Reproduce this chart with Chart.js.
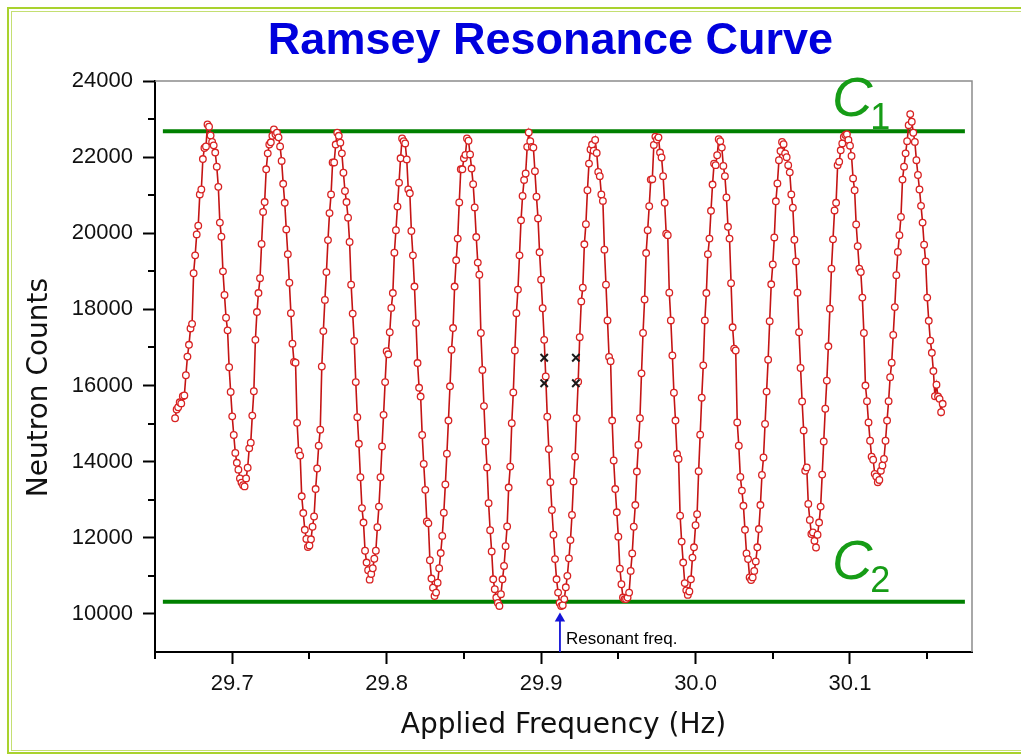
<!DOCTYPE html>
<html>
<head>
<meta charset="utf-8">
<script src="https://cdn.jsdelivr.net/npm/chart.js@4.4.1/dist/chart.umd.min.js"></script>
<style>
html,body{margin:0;padding:0;background:#fff;overflow:hidden;}
#wrap{position:relative;width:1021px;height:755px;overflow:hidden;}
canvas{position:absolute;left:0;top:0;}
.frame{position:absolute;box-sizing:border-box;pointer-events:none;}
#outer{left:7px;top:7px;width:1100px;height:747px;border:2px solid #a9d22e;}
#inner{left:11px;top:11px;width:1100px;height:740px;border:1px solid #c4df72;}
</style>
</head>
<body>
<div id="wrap">
<canvas id="c" width="1021" height="755"></canvas>
<div class="frame" id="outer"></div>
<div class="frame" id="inner"></div>
</div>
<script>
// Applied frequency (Hz) of each measurement
const frequencies = [
29.663,29.664,29.665,29.666,29.667,29.668,29.669,29.670,29.671,29.672,
29.673,29.674,29.675,29.676,29.677,29.678,29.679,29.680,29.681,29.682,
29.683,29.684,29.685,29.686,29.687,29.688,29.689,29.690,29.691,29.692,
29.693,29.694,29.695,29.696,29.697,29.698,29.699,29.700,29.701,29.702,
29.703,29.704,29.705,29.706,29.707,29.708,29.709,29.710,29.711,29.712,
29.713,29.714,29.715,29.716,29.717,29.718,29.719,29.720,29.721,29.722,
29.723,29.724,29.725,29.726,29.727,29.728,29.729,29.730,29.731,29.732,
29.733,29.734,29.735,29.736,29.737,29.738,29.739,29.740,29.741,29.742,
29.743,29.744,29.745,29.746,29.747,29.748,29.749,29.750,29.751,29.752,
29.753,29.754,29.755,29.756,29.757,29.758,29.759,29.760,29.761,29.762,
29.763,29.764,29.765,29.766,29.767,29.768,29.769,29.770,29.771,29.772,
29.773,29.774,29.775,29.776,29.777,29.778,29.779,29.780,29.781,29.782,
29.783,29.784,29.785,29.786,29.787,29.788,29.789,29.790,29.791,29.792,
29.793,29.794,29.795,29.796,29.797,29.798,29.799,29.800,29.801,29.802,
29.803,29.804,29.805,29.806,29.807,29.808,29.809,29.810,29.811,29.812,
29.813,29.814,29.815,29.816,29.817,29.818,29.819,29.820,29.821,29.822,
29.823,29.824,29.825,29.826,29.827,29.828,29.829,29.830,29.831,29.832,
29.833,29.834,29.835,29.836,29.837,29.838,29.839,29.840,29.841,29.842,
29.843,29.844,29.845,29.846,29.847,29.848,29.849,29.850,29.851,29.852,
29.853,29.854,29.855,29.856,29.857,29.858,29.859,29.860,29.861,29.862,
29.863,29.864,29.865,29.866,29.867,29.868,29.869,29.870,29.871,29.872,
29.873,29.874,29.875,29.876,29.877,29.878,29.879,29.880,29.881,29.882,
29.883,29.884,29.885,29.886,29.887,29.888,29.889,29.890,29.891,29.892,
29.893,29.894,29.895,29.896,29.897,29.898,29.899,29.900,29.901,29.902,
29.903,29.904,29.905,29.906,29.907,29.908,29.909,29.910,29.911,29.912,
29.913,29.914,29.915,29.916,29.917,29.918,29.919,29.920,29.921,29.922,
29.923,29.924,29.925,29.926,29.927,29.928,29.929,29.930,29.931,29.932,
29.933,29.934,29.935,29.936,29.937,29.938,29.939,29.940,29.941,29.942,
29.943,29.944,29.945,29.946,29.947,29.948,29.949,29.950,29.951,29.952,
29.953,29.954,29.955,29.956,29.957,29.958,29.959,29.960,29.961,29.962,
29.963,29.964,29.965,29.966,29.967,29.968,29.969,29.970,29.971,29.972,
29.973,29.974,29.975,29.976,29.977,29.978,29.979,29.980,29.981,29.982,
29.983,29.984,29.985,29.986,29.987,29.988,29.989,29.990,29.991,29.992,
29.993,29.994,29.995,29.996,29.997,29.998,29.999,30.000,30.001,30.002,
30.003,30.004,30.005,30.006,30.007,30.008,30.009,30.010,30.011,30.012,
30.013,30.014,30.015,30.016,30.017,30.018,30.019,30.020,30.021,30.022,
30.023,30.024,30.025,30.026,30.027,30.028,30.029,30.030,30.031,30.032,
30.033,30.034,30.035,30.036,30.037,30.038,30.039,30.040,30.041,30.042,
30.043,30.044,30.045,30.046,30.047,30.048,30.049,30.050,30.051,30.052,
30.053,30.054,30.055,30.056,30.057,30.058,30.059,30.060,30.061,30.062,
30.063,30.064,30.065,30.066,30.067,30.068,30.069,30.070,30.071,30.072,
30.073,30.074,30.075,30.076,30.077,30.078,30.079,30.080,30.081,30.082,
30.083,30.084,30.085,30.086,30.087,30.088,30.089,30.090,30.091,30.092,
30.093,30.094,30.095,30.096,30.097,30.098,30.099,30.100,30.101,30.102,
30.103,30.104,30.105,30.106,30.107,30.108,30.109,30.110,30.111,30.112,
30.113,30.114,30.115,30.116,30.117,30.118,30.119,30.120,30.121,30.122,
30.123,30.124,30.125,30.126,30.127,30.128,30.129,30.130,30.131,30.132,
30.133,30.134,30.135,30.136,30.137,30.138,30.139,30.140,30.141,30.142,
30.143,30.144,30.145,30.146,30.147,30.148,30.149,30.150,30.151,30.152,
30.153,30.154,30.155,30.156,30.157,30.158,30.159,30.160
];

// Neutron counts
const counts = [
15140,15370,15430,15560,15530,15720,15740,16270,16760,17070,
17500,17620,18950,19420,19970,20200,21020,21150,21950,22240,
22280,22860,22800,22570,22400,22310,22120,21750,21220,20280,
19910,19000,18380,17780,17450,16480,15830,15190,14700,14230,
13970,13790,13560,13450,13380,13350,13560,13840,14350,14500,
15210,15850,17200,17930,18430,18820,19720,20560,20820,21680,
22100,22330,22390,22560,22730,22600,22640,22520,22280,21900,
21300,20800,20100,19450,18700,17900,17100,16620,16600,15020,
14280,14160,13090,12650,12210,11970,11760,11800,11960,12290,
12560,13280,13820,14420,14840,16500,17430,18250,18980,19820,
20530,21020,21860,21860,22330,22640,22560,22380,22100,21590,
21110,20820,20410,19770,18650,17890,17170,16090,15170,14470,
13590,12780,12400,11660,11350,11150,10900,11050,11200,11450,
11660,12280,12820,13590,14400,15230,16090,16900,16820,17400,
18040,18430,19490,20080,20700,21330,21970,22490,22420,22360,
21940,21150,21050,20060,19420,18600,17640,16590,15940,15710,
14700,13940,13260,12430,12380,11410,10930,10690,10470,10560,
10820,11200,11600,12050,12660,13400,14210,15080,15980,16940,
17510,18600,19290,19860,20810,21680,21680,21970,22060,22490,
22430,22070,21700,21290,20680,19900,19230,18910,17380,16410,
15460,14530,13850,12910,12200,11640,10910,10650,10430,10290,
10210,10520,10910,11260,11780,12300,13320,13870,15010,15820,
16920,17900,18520,19420,20340,20980,21400,21570,22270,22650,
22420,22270,22250,21630,20960,20390,19500,18780,18030,17200,
16240,15180,14330,13460,12730,12080,11440,10910,10560,10290,
10210,10230,10390,10700,11000,11460,11940,12600,13480,14130,
15140,16100,17270,18210,18570,19710,20240,21130,21830,22200,
22330,22170,22450,22110,21610,21500,21020,20850,19570,18650,
17710,16750,16640,15080,14030,13280,12670,12030,11190,10780,
10430,10390,10390,10430,10560,11130,11590,12290,12860,13740,
14440,15140,16320,17380,18260,19480,20080,20710,21410,21420,
22320,22540,22460,22520,22120,21990,21500,20800,19990,19950,
18440,17710,16790,15810,15080,14200,14070,12580,11900,11350,
10810,10620,10500,10590,10910,11480,11750,12330,12620,13750,
14710,15680,16530,17710,18430,19450,19860,20590,21280,21830,
21790,22050,22470,22420,22250,21770,21500,20940,20170,19860,
18690,17530,16970,16920,15030,14420,13600,13240,12840,12210,
11590,11440,10960,10890,10960,11130,11380,11750,12230,12860,
13650,14110,14990,15840,16680,17690,18660,19180,19890,20840,
21310,21920,22160,22400,22340,22100,22000,21790,21600,21020,
20670,19830,19260,18440,17400,16460,15580,14820,13760,13850,
12890,12470,12100,12140,11920,11745,12080,12400,12820,13660,
14530,15390,16130,17030,18020,19070,19840,20600,20800,21790,
21880,22180,22360,22530,22580,22600,22450,22300,22030,21440,
21130,20230,19660,19070,18980,18310,17380,16000,15590,15030,
14550,14130,14050,13680,13610,13460,13520,13760,13900,14070,
14550,15080,15590,16220,16600,17330,18060,18900,19510,19950,
20430,21410,21750,22100,22420,22840,23130,22930,22640,22400,
21920,21530,21150,20720,20280,19700,19260,18310,17700,17180,
16860,16380,15720,16020,15710,15650,15300,15520
];

// Reference levels C1 (maximum) and C2 (minimum)
const referenceLevels = [22680, 10320];
const referenceNames = ['1', '2'];
const referenceSpan = [29.6551, 30.1744];
// label anchors: freq of "C", counts of "C" baseline, counts of subscript baseline
const labelFreq = [30.0883, 30.0883];
const labelBase = [23080, 10917];
const labelSubBase = [22740, 10584];

// Half-height markers (x)
const halfMaxFreqs = [29.902, 29.902, 29.9225, 29.9225];
const halfMaxCounts = [16730, 16060, 16730, 16060];

// Resonant frequency arrow
const resonantFreq = 29.9122;
const arrowCounts = [9000, 9880];
const resonantTextCount = 9200;

// Axes
const xRange = [29.65, 30.179];
const yRange = [9000, 24000];
const xTickValues = [29.7, 29.8, 29.9, 30.0, 30.1];
const yTickValues = [10000, 12000, 14000, 16000, 18000, 20000, 22000, 24000];
const xMinorTicks = [29.65, 29.75, 29.85, 29.95, 30.05, 30.15];
const yMinorTicks = [11000, 13000, 15000, 17000, 19000, 21000, 23000];

const mainData = frequencies.map((f, i) => ({x: f, y: counts[i]}));
const refData = referenceLevels.map(v => [{x: referenceSpan[0], y: v}, {x: referenceSpan[1], y: v}]);
const halfData = halfMaxFreqs.map((f, i) => ({x: f, y: halfMaxCounts[i]}));
const arrowData = arrowCounts.map(v => ({x: resonantFreq, y: v}));

const SANS = '"Liberation Sans", Arial, Helvetica, sans-serif';
const DEJA = '"DejaVu Sans", sans-serif';

const decorPlugin = {
  id: 'decor',
  afterLayout(chart) {
    if (chart.titleBlock) {
      chart.titleBlock.left = 80;
      chart.titleBlock.right = 1021;
    }
  },
  beforeDatasetsDraw(chart) {
    const {ctx, chartArea: a} = chart;
    ctx.save();
    ctx.strokeStyle = '#8c8c8c';
    ctx.lineWidth = 1.5;
    ctx.beginPath();
    ctx.moveTo(a.left, a.top);
    ctx.lineTo(a.right, a.top);
    ctx.lineTo(a.right, a.bottom);
    ctx.stroke();
    ctx.restore();
  },
  afterDraw(chart) {
    const {ctx, chartArea: a, scales: {x, y}} = chart;
    ctx.save();
    ctx.strokeStyle = '#000';
    ctx.lineWidth = 2;
    ctx.beginPath();
    yMinorTicks.forEach(v => {
      const py = Math.round(y.getPixelForValue(v));
      ctx.moveTo(a.left - 7, py);
      ctx.lineTo(a.left, py);
    });
    xMinorTicks.forEach(v => {
      const px = Math.round(x.getPixelForValue(v));
      ctx.moveTo(px, a.bottom);
      ctx.lineTo(px, a.bottom + 7);
    });
    ctx.stroke();

    ctx.fillStyle = '#169c16';
    ctx.textBaseline = 'alphabetic';
    ctx.textAlign = 'left';
    referenceNames.forEach((n, i) => {
      const px = x.getPixelForValue(labelFreq[i]);
      ctx.font = 'italic 56px ' + SANS;
      ctx.fillText('C', px, y.getPixelForValue(labelBase[i]));
      const w = ctx.measureText('C').width;
      ctx.font = '36px ' + SANS;
      ctx.fillText(n, px + w - 2, y.getPixelForValue(labelSubBase[i]));
    });

    ctx.fillStyle = '#000';
    ctx.font = '17px ' + SANS;
    ctx.fillText('Resonant freq.', x.getPixelForValue(resonantFreq) + 6, y.getPixelForValue(resonantTextCount));
    ctx.restore();
  }
};

new Chart(document.getElementById('c'), {
  type: 'line',
  data: {
    datasets: [
      {
        label: 'Neutron Counts',
        data: mainData,
        borderColor: '#c41414',
        borderWidth: 1.6,
        pointRadius: 3.3,
        pointBorderWidth: 1.3,
        pointBorderColor: '#d82222',
        pointBackgroundColor: '#ffffff',
        tension: 0,
        order: 1
      },
      {
        label: 'C1',
        data: refData[0],
        borderColor: '#008000',
        borderWidth: 4,
        pointRadius: 0,
        order: 3
      },
      {
        label: 'C2',
        data: refData[1],
        borderColor: '#008000',
        borderWidth: 4,
        pointRadius: 0,
        order: 3
      },
      {
        label: 'Half height',
        data: halfData,
        showLine: false,
        pointStyle: 'crossRot',
        pointRadius: 5.2,
        pointBorderWidth: 2,
        pointBorderColor: '#1a1a1a',
        order: 0
      },
      {
        label: 'Resonant freq.',
        data: arrowData,
        borderColor: '#1414d8',
        borderWidth: 1.8,
        pointStyle: 'triangle',
        pointRadius: [0, 6],
        pointBorderWidth: 0,
        pointBackgroundColor: '#1414d8',
        pointBorderColor: '#1414d8',
        order: 0
      }
    ]
  },
  options: {
    responsive: false,
    animation: false,
    devicePixelRatio: 1,
    events: [],
    layout: {padding: {left: 0, right: 49, top: 0, bottom: 0}},
    plugins: {
      legend: {display: false},
      tooltip: {enabled: false},
      title: {
        display: true,
        text: 'Ramsey Resonance Curve',
        color: '#0000dd',
        font: {family: SANS, size: 45, weight: 'bold'},
        padding: {top: 15, bottom: 12}
      }
    },
    scales: {
      x: {
        type: 'linear',
        min: xRange[0],
        max: xRange[1],
        afterFit: s => { s.height = 103; },
        afterBuildTicks: s => { s.ticks = xTickValues.map(v => ({value: v})); },
        border: {display: true, color: '#000', width: 2},
        grid: {display: true, drawOnChartArea: false, drawTicks: true, tickLength: 12, tickWidth: 2, tickColor: '#000'},
        ticks: {
          autoSkip: false,
          maxRotation: 0,
          padding: 7,
          color: '#111',
          font: {family: SANS, size: 22},
          callback: v => Number(v).toFixed(1)
        },
        title: {
          display: true,
          text: 'Applied Frequency (Hz)',
          color: '#111',
          font: {family: DEJA, size: 28},
          padding: {top: 0, bottom: 12}
        }
      },
      y: {
        type: 'linear',
        min: yRange[0],
        max: yRange[1],
        afterFit: s => { s.width = 155; },
        afterBuildTicks: s => { s.ticks = yTickValues.map(v => ({value: v})); },
        border: {display: true, color: '#000', width: 2},
        grid: {display: true, drawOnChartArea: false, drawTicks: true, tickLength: 12, tickWidth: 2, tickColor: '#000'},
        ticks: {
          autoSkip: false,
          padding: 10,
          color: '#111',
          font: {family: SANS, size: 22},
          callback: v => String(v)
        },
        title: {
          display: true,
          text: 'Neutron Counts\u2002\u2002\u2002',
          color: '#111',
          font: {family: DEJA, size: 28},
          padding: {top: 23, bottom: 0}
        }
      }
    }
  },
  plugins: [decorPlugin]
});
</script>
</body>
</html>
